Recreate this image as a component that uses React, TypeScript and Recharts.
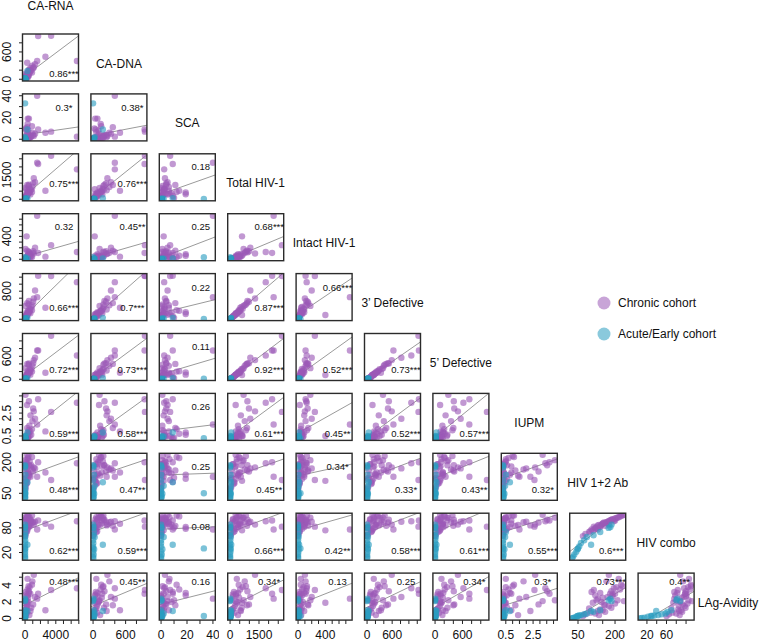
import React from "react";
import { ScatterChart, Scatter, XAxis, YAxis, ReferenceLine } from "recharts";

const FONT = '"Liberation Sans", Arial, Helvetica, sans-serif';
const PURPLE = "#9b59b6";
const TEAL = "#2a9dc0";

// ---- subject values, chronic cohort (same subject order in every array) ----
const caRnaChronic = [1700, 3390, 2650, 6750, 1574, 276, 1133, 350, 500, 200, 50, 500, 1300, 900, 150, 80, 600, 420, 240, 700, 120, 330, 60, 950, 180, 400, 30, 260, 800, 100, 560, 220, 1050, 40, 320, 150, 680, 90, 450, 260];
const caDnaChronic = [950, 956, 496, 401, 401, 364, 264, 40, 80, 30, 120, 210, 330, 150, 60, 20, 180, 100, 70, 250, 45, 140, 15, 300, 90, 160, 10, 110, 200, 50, 130, 80, 240, 5, 60, 35, 170, 25, 190, 75];
const scaChronic = [9, 7, 6, 2.4, 40, 11, 3, 19, 19, 2, 1, 4, 5, 12, 0.5, 0, 3, 8, 1.5, 2, 0, 14, 0.2, 6, 3.5, 0.8, 0, 5, 2.5, 9, 1, 0, 4, 0, 6.5, 0.3, 2, 10, 1.2, 0];
const totalChronic = [2180, 2690, 530, 1850, 2260, 880, 1295, 306, 420, 620, 700, 900, 1050, 450, 180, 90, 650, 380, 250, 560, 140, 520, 60, 760, 330, 470, 40, 290, 600, 200, 410, 160, 980, 20, 350, 110, 300, 80, 820, 230];
const intactChronic = [110, 246, 46, 126, 760, 150, 100, 60, 90, 400, 180, 120, 200, 40, 20, 10, 80, 70, 30, 90, 15, 60, 5, 110, 50, 35, 0, 25, 55, 20, 45, 15, 140, 0, 40, 10, 35, 5, 130, 25];
const def3Chronic = [1240, 1230, 330, 1058, 630, 460, 590, 150, 200, 120, 380, 520, 820, 260, 100, 40, 300, 190, 140, 280, 70, 240, 25, 400, 170, 230, 15, 130, 350, 90, 210, 80, 500, 10, 160, 60, 170, 40, 420, 110];
const def5Chronic = [750, 1135, 170, 620, 750, 400, 500, 120, 180, 110, 290, 410, 560, 200, 60, 30, 260, 150, 100, 230, 50, 210, 20, 350, 130, 170, 10, 110, 270, 70, 160, 60, 420, 5, 140, 40, 120, 30, 380, 90];
const iupmChronic = [3.7, 2.6, 0.9, 3.4, 1.5, 1.2, 2.65, 0.6, 0.8, 0.5, 4.1, 3.53, 2.0, 1.1, 0.35, 0.3, 0.5, 0.4, 0.3, 2.3, 0.3, 0.7, 0.3, 1.8, 0.45, 0.35, 0.3, 3.2, 0.6, 0.3, 1.4, 0.4, 2.9, 0.3, 0.5, 0.3, 0.9, 0.35, 1.0, 0.3];
const abChronic = [200, 114, 150, 195, 130, 160, 175, 120, 140, 110, 210, 185, 170, 225, 95, 160, 205, 145, 175, 130, 190, 220, 80, 165, 200, 150, 120, 236, 185, 105, 135, 190, 155, 70, 215, 140, 180, 125, 230, 100];
const comboChronic = [98, 83, 90, 96, 76, 85, 88, 78, 82, 74, 105, 100, 95, 110, 70, 92, 104, 88, 97, 86, 101, 108, 65, 94, 103, 91, 80, 112, 99, 76, 87, 100, 93, 60, 106, 84, 98, 81, 110, 72];
const lagChronic = [3.0, 3.45, 1.0, 3.66, 2.4, 1.6, 5.3, 2.8, 3.1, 1.9, 2.2, 3.3, 2.6, 4.1, 1.2, 0.8, 3.8, 2.0, 1.5, 0.9, 2.9, 3.5, 0.5, 4.5, 1.8, 2.5, 0.6, 2.1, 1.3, 3.2, 0.4, 2.7, 1.7, 0.3, 4.8, 1.1, 3.0, 2.2, 3.9, 0.7];

// ---- acute/early cohort ----
const caRnaAcute = [0, 0, 0, 0, 0, 10, 0, 300, 0, 20, 0, 0, 40, 0, 0, 0];
const caDnaAcute = [0, 5, 0, 10, 0, 20, 0, 180, 5, 0, 30, 0, 15, 0, 10, 0];
const scaAcute = [33, 0, 0, 0.5, 0, 1, 0, 9, 0, 0, 2, 0, 0, 0.5, 0, 0];
const totalAcute = [16, 0, 5, 0, 20, 30, 0, 60, 0, 10, 40, 0, 25, 0, 15, 0];
const intactAcute = [35, 0, 0, 0, 5, 10, 0, 15, 0, 0, 8, 0, 5, 0, 0, 0];
const def3Acute = [10, 0, 5, 0, 10, 20, 0, 40, 0, 5, 20, 0, 10, 0, 5, 0];
const def5Acute = [12, 0, 0, 0, 5, 10, 0, 30, 0, 5, 15, 0, 10, 0, 5, 0];
const iupmAcute = [0.3, 0.3, 0.3, 0.35, 0.3, 0.4, 0.3, 0.8, 0.3, 0.3, 0.45, 0.3, 0.5, 0.3, 0.3, 0.3];
const abAcute = [50, 26, 30, 35, 43, 48, 55, 103, 62, 75, 86, 113, 140, 174, 181, 186];
const comboAcute = [30, 6, 10, 15, 22, 28, 35, 39, 43, 50, 58, 62, 70, 80, 82, 88];
const lagAcute = [0.29, 0.02, 0.05, 0.1, 0.2, 0.3, 0.35, 0.9, 0.4, 0.5, 0.6, 0.8, 1.0, 2.2, 2.4, 2.1];

// ---- axis ticks and the tick labels that are printed ----
const caRnaTicks = [0, 1000, 2000, 3000, 4000, 5000, 6000, 7000];
const caDnaTicks = [0, 200, 400, 600, 800];
const scaTicks = [0, 10, 20, 30, 40];
const totalTicks = [0, 500, 1000, 1500, 2000, 2500];
const intactTicks = [0, 100, 200, 300, 400, 500, 600, 700];
const def3Ticks = [0, 200, 400, 600, 800, 1000, 1200];
const def5Ticks = [0, 200, 400, 600, 800, 1000];
const iupmTicks = [0.5, 1, 1.5, 2, 2.5, 3, 3.5, 4];
const abTicks = [50, 100, 150, 200];
const comboTicks = [20, 40, 60, 80, 100];
const lagTicks = [0, 1, 2, 3, 4, 5];

const caRnaShown = [0, 4000];
const caDnaShown = [0, 600];
const scaShown = [0, 20, 40];
const totalShown = [0, 1500];
const intactShown = [0, 400];
const def3XShown = [0, 600];
const def3YShown = [0, 800];
const def5Shown = [0, 600];
const iupmShown = [0.5, 2.5];
const abShown = [50, 200];
const comboXShown = [20, 60];
const comboYShown = [20, 80];
const lagShown = [0, 2, 4];

// spearman labels, one list per row of the lower triangle
const corrRows = [
  ["0.86***"],
  ["0.3*", "0.38*"],
  ["0.75***", "0.76***", "0.18"],
  ["0.32", "0.45**", "0.25", "0.68***"],
  ["0.66***", "0.7***", "0.22", "0.87***", "0.66***"],
  ["0.72***", "0.73***", "0.11", "0.92***", "0.52***", "0.73***"],
  ["0.59***", "0.58***", "0.26", "0.61***", "0.45**", "0.52***", "0.57***"],
  ["0.48***", "0.47**", "0.25", "0.45**", "0.34*", "0.33*", "0.43**", "0.32*"],
  ["0.62***", "0.59***", "0.08", "0.66***", "0.42**", "0.58***", "0.61***", "0.55***", "0.6***"],
  ["0.48***", "0.45**", "0.16", "0.34*", "0.13", "0.25", "0.34*", "0.3*", "0.73***", "0.4**"],
];

const vars = [
  { name: "CA-RNA", chronic: caRnaChronic, acute: caRnaAcute, ticks: caRnaTicks, xShown: caRnaShown, yShown: caRnaShown },
  { name: "CA-DNA", chronic: caDnaChronic, acute: caDnaAcute, ticks: caDnaTicks, xShown: caDnaShown, yShown: caDnaShown },
  { name: "SCA", chronic: scaChronic, acute: scaAcute, ticks: scaTicks, xShown: scaShown, yShown: scaShown },
  { name: "Total HIV-1", chronic: totalChronic, acute: totalAcute, ticks: totalTicks, xShown: totalShown, yShown: totalShown },
  { name: "Intact HIV-1", chronic: intactChronic, acute: intactAcute, ticks: intactTicks, xShown: intactShown, yShown: intactShown },
  { name: "3\u2019 Defective", chronic: def3Chronic, acute: def3Acute, ticks: def3Ticks, xShown: def3XShown, yShown: def3YShown },
  { name: "5\u2019 Defective", chronic: def5Chronic, acute: def5Acute, ticks: def5Ticks, xShown: def5Shown, yShown: def5Shown },
  { name: "IUPM", chronic: iupmChronic, acute: iupmAcute, ticks: iupmTicks, xShown: iupmShown, yShown: iupmShown },
  { name: "HIV 1+2 Ab", chronic: abChronic, acute: abAcute, ticks: abTicks, xShown: abShown, yShown: abShown },
  { name: "HIV combo", chronic: comboChronic, acute: comboAcute, ticks: comboTicks, xShown: comboXShown, yShown: comboYShown },
  { name: "LAg-Avidity", chronic: lagChronic, acute: lagAcute, ticks: lagTicks, xShown: lagShown, yShown: lagShown },
];

// layout
const W = 762;
const H = 643;
const LEFT0 = 22.5;
const COL_STEP = 68.4;
const TOP0 = 34;
const ROW_STEP = 59.9;
const PW = 56;
const PH = 47;
const NROWS = 10;
// where the r label sits in each panel: T = near top, B = near bottom
const corrPlace = ["B", "TT", "BBT", "TTTT", "BBTBT", "BBTBBB", "BBTBBBB", "BBTBTBBB", "BBTBBBBBB", "TTTTTTTTTT"];
const topOff = [0, 14, 13, 13, 13.5, 13, 13, 13, 13, 8];
const botOff = [8, 0, 17.5, 0, 13, 11, 7, 11, 10, 0];

function domainOf(v: { chronic: number[]; acute: number[] }): [number, number] {
  const all = [...v.chronic, ...v.acute];
  const lo = Math.min(...all);
  const hi = Math.max(...all);
  const pad = (hi - lo) * 0.04;
  return [lo - pad, hi + pad];
}

function fitLine(xs: number[], ys: number[]) {
  const n = xs.length;
  const mx = xs.reduce((s, v) => s + v, 0) / n;
  const my = ys.reduce((s, v) => s + v, 0) / n;
  let sxy = 0;
  let sxx = 0;
  for (let i = 0; i < n; i++) {
    sxy += (xs[i] - mx) * (ys[i] - my);
    sxx += (xs[i] - mx) * (xs[i] - mx);
  }
  const b = sxx === 0 ? 0 : sxy / sxx;
  return { a: my - b * mx, b };
}

const inside = (ticks: number[], d: [number, number]) => ticks.filter((t) => t >= d[0] && t <= d[1]);

const dot = (color: string) => (p: any) => (
  <circle cx={p.cx} cy={p.cy} r={3.2} fill={color} fillOpacity={0.62} />
);

function XTick(props: any) {
  const { x, y, payload, shown } = props;
  if (!shown.includes(payload.value)) return <g />;
  return (
    <text x={x} y={y + 13.5} textAnchor="middle" fontSize={12} fontFamily={FONT} fill="#111">
      {payload.value}
    </text>
  );
}

function YTick(props: any) {
  const { x, y, payload, shown } = props;
  if (!shown.includes(payload.value)) return <g />;
  const cx = x - 10;
  return (
    <text
      x={cx}
      y={y}
      transform={`rotate(-90 ${cx} ${y})`}
      textAnchor="middle"
      dominantBaseline="central"
      fontSize={12}
      fontFamily={FONT}
      fill="#111"
    >
      {payload.value}
    </text>
  );
}

function Panel({ row, col }: { row: number; col: number }) {
  const xv = vars[col];
  const yv = vars[row + 1];
  const left = LEFT0 + col * COL_STEP;
  const top = TOP0 + row * ROW_STEP;
  const showY = col === 0;
  const showX = row === NROWS - 1;
  const padL = showY ? 23 : 4;
  const padB = showX ? H - (top + PH) : 4;
  const xd = domainOf(xv);
  const yd = domainOf(yv);
  const chronic = xv.chronic.map((x, i) => ({ x, y: yv.chronic[i] }));
  const acute = xv.acute.map((x, i) => ({ x, y: yv.acute[i] }));
  const { a, b } = fitLine([...xv.chronic, ...xv.acute], [...yv.chronic, ...yv.acute]);

  return (
    <div style={{ position: "absolute", left: left - padL, top: top - 4 }}>
      <ScatterChart
        width={padL + PW + 4}
        height={4 + PH + padB}
        margin={{ top: 4, right: 4, bottom: showX ? 0 : padB, left: showY ? 0 : padL }}
      >
        <XAxis
          type="number"
          dataKey="x"
          domain={xd}
          allowDataOverflow
          ticks={inside(xv.ticks, xd)}
          interval={0}
          hide={!showX}
          height={showX ? padB : 0}
          tickSize={4}
          tickMargin={2}
          axisLine={false}
          tickLine={{ stroke: "#222" }}
          tick={<XTick shown={xv.xShown} />}
        />
        <YAxis
          type="number"
          dataKey="y"
          domain={yd}
          allowDataOverflow
          ticks={inside(yv.ticks, yd)}
          interval={0}
          hide={!showY}
          width={showY ? padL : 0}
          tickSize={4}
          tickMargin={2}
          axisLine={false}
          tickLine={{ stroke: "#222" }}
          tick={<YTick shown={yv.yShown} />}
        />
        <ReferenceLine
          segment={[
            { x: xd[0], y: a + b * xd[0] },
            { x: xd[1], y: a + b * xd[1] },
          ]}
          stroke="#9a9a9a"
          strokeWidth={1}
          ifOverflow="hidden"
        />
        <Scatter data={chronic} shape={dot(PURPLE)} isAnimationActive={false} />
        <Scatter data={acute} shape={dot(TEAL)} isAnimationActive={false} />
      </ScatterChart>
    </div>
  );
}

export default function App() {
  const panels: { row: number; col: number }[] = [];
  for (let r = 0; r < NROWS; r++) for (let c = 0; c <= r; c++) panels.push({ row: r, col: c });

  return (
    <div style={{ position: "absolute", left: 0, top: 0, width: W, height: H, background: "#fff", fontFamily: FONT }}>
      {panels.map((p) => (
        <Panel key={`${p.row}-${p.col}`} row={p.row} col={p.col} />
      ))}
      <svg width={W} height={H} style={{ position: "absolute", left: 0, top: 0, pointerEvents: "none" }}>
        {panels.map((p) => {
          const left = LEFT0 + p.col * COL_STEP;
          const top = TOP0 + p.row * ROW_STEP;
          const place = corrPlace[p.row][p.col];
          const ty = place === "T" ? top + topOff[p.row] : top + PH - botOff[p.row];
          return (
            <g key={`b${p.row}-${p.col}`}>
              <rect x={left} y={top} width={PW} height={PH} fill="none" stroke="#2b2b2b" strokeWidth={1.4} />
              <text
                x={left + 41.5}
                y={ty}
                textAnchor="middle"
                dominantBaseline="central"
                fontSize={9.5}
                fontFamily={FONT}
                fill="#111"
              >
                {corrRows[p.row][p.col]}
              </text>
            </g>
          );
        })}
        {vars.map((v, i) => (
          <text
            key={v.name}
            x={Math.min(LEFT0 + i * COL_STEP + PW / 2, 728)}
            y={i === 0 ? 6 : TOP0 + (i - 1) * ROW_STEP + PH / 2 + 6}
            textAnchor="middle"
            dominantBaseline="central"
            fontSize={12}
            fontFamily={FONT}
            fill="#111"
          >
            {v.name}
          </text>
        ))}
        <circle cx={604} cy={303} r={6.5} fill={PURPLE} fillOpacity={0.55} />
        <text x={618} y={303} dominantBaseline="central" fontSize={12} fontFamily={FONT} fill="#111">
          Chronic cohort
        </text>
        <circle cx={604} cy={334} r={6.5} fill={TEAL} fillOpacity={0.55} />
        <text x={618} y={334} dominantBaseline="central" fontSize={12} fontFamily={FONT} fill="#111">
          Acute/Early cohort
        </text>
      </svg>
    </div>
  );
}
